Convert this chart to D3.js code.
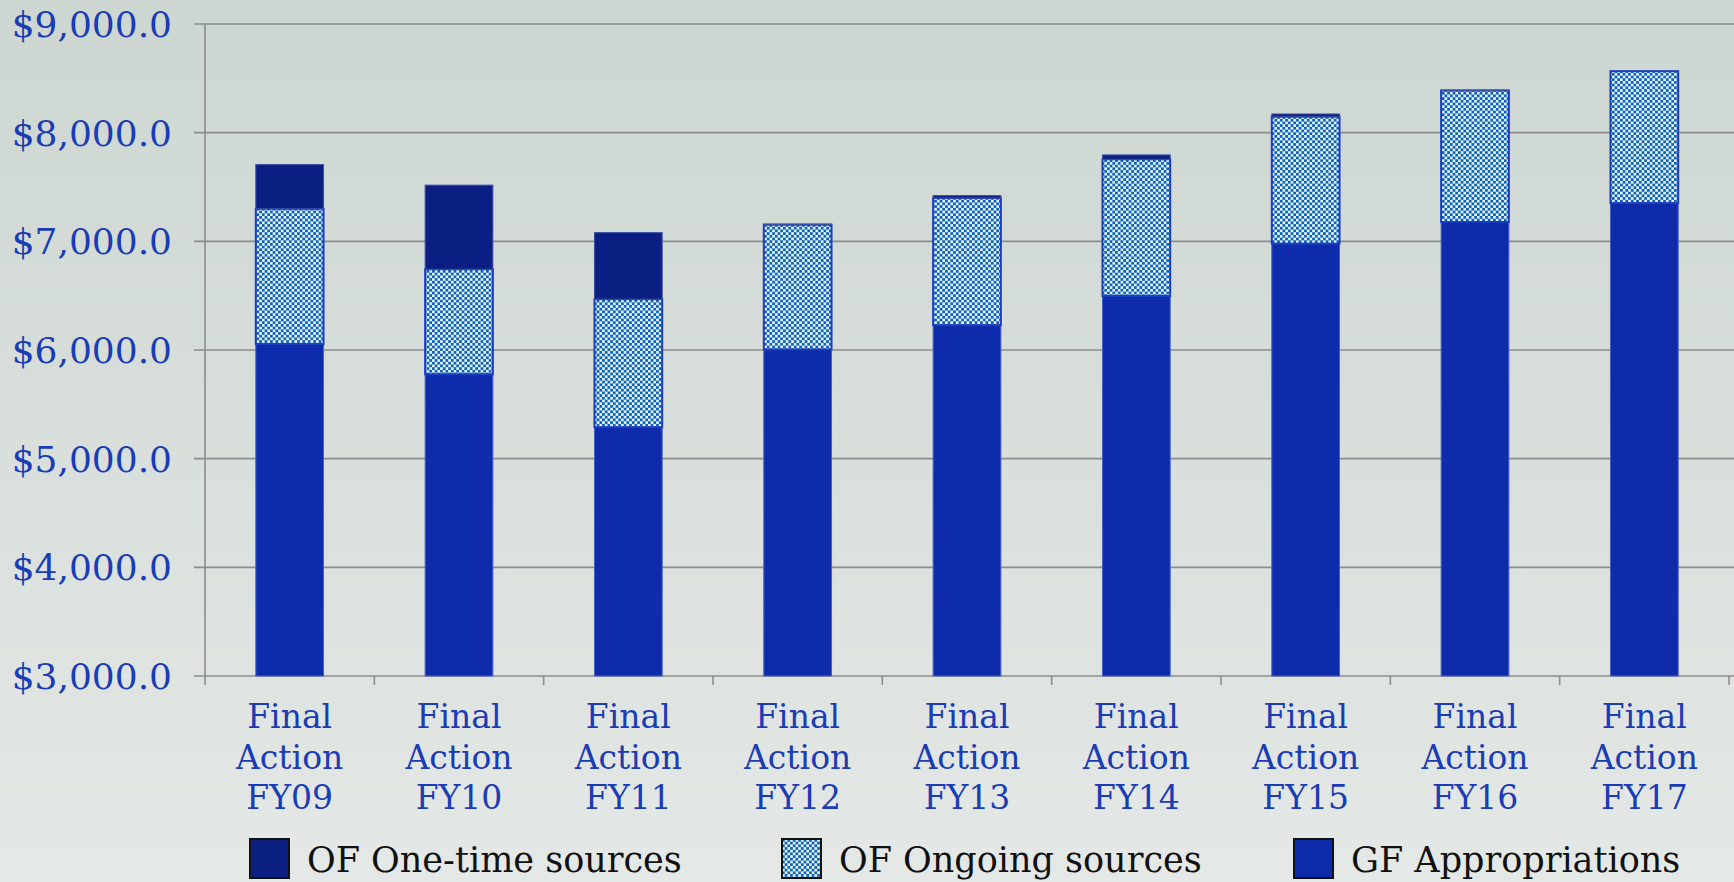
<!DOCTYPE html>
<html>
<head>
<meta charset="utf-8">
<script src="https://cdn.jsdelivr.net/npm/d3@7"></script>
<style>
  html, body { margin: 0; padding: 0; }
  body { width: 1734px; height: 882px; overflow: hidden; }
  svg { display: block; }
</style>
</head>
<body>
<script>
// chart data (millions)
var categories = ["FY09", "FY10", "FY11", "FY12", "FY13", "FY14", "FY15", "FY16", "FY17"];
var gfAppropriations = [6055, 5777, 5290, 6005, 6229, 6497, 6979, 7178, 7352];
var ofOngoing = [1245, 966, 1178, 1148, 1170, 1258, 1168, 1210, 1214];
var ofOneTime = [406, 774, 612, 6, 22, 40, 25, 4, 0];
var yTicks = [3000, 4000, 5000, 6000, 7000, 8000, 9000];
var legendLabels = ["OF One-time sources", "OF Ongoing sources", "GF Appropriations"];

// plot box (note: "top" is a reserved window prop, so use other names)
var width = 1734, height = 882;
var plotLeft = 205, plotRight = 1729, plotTop = 24, plotBottom = 676;
var blue = "#1a3cb4";
var font = "'DejaVu Serif', serif";

var svg = d3.select("body").append("svg")
    .attr("width", width)
    .attr("height", height);

// background gradient
var defs = svg.append("defs");
var grad = defs.append("linearGradient")
    .attr("id", "bg")
    .attr("x1", 0).attr("y1", 0).attr("x2", 0).attr("y2", 1);
grad.append("stop").attr("offset", "0%").attr("stop-color", "#cdd6d1");
grad.append("stop").attr("offset", "100%").attr("stop-color", "#e4e8e6");

// checkered fill for the ongoing sources
var pat = defs.append("pattern")
    .attr("id", "checks")
    .attr("patternUnits", "userSpaceOnUse")
    .attr("width", 5.4).attr("height", 5.4);
pat.append("rect").attr("width", 5.4).attr("height", 5.4).attr("fill", "#eef5fb");
pat.append("rect").attr("x", 0).attr("y", 0).attr("width", 2.8).attr("height", 2.8).attr("fill", "#0863b6");
pat.append("rect").attr("x", 2.7).attr("y", 2.7).attr("width", 2.8).attr("height", 2.8).attr("fill", "#0863b6");

svg.append("rect")
    .attr("width", width).attr("height", height)
    .attr("fill", "url(#bg)");

var x = d3.scaleBand()
    .domain(categories)
    .range([plotLeft, plotRight])
    .paddingInner(0.6)
    .paddingOuter(0.3);

var y = d3.scaleLinear()
    .domain([3000, 9000])
    .range([plotBottom, plotTop]);

// gridlines + y labels
svg.append("g")
    .selectAll("line")
    .data(yTicks)
    .enter()
    .append("line")
    .attr("x1", plotLeft - 11)
    .attr("x2", width)
    .attr("y1", function (d) { return y(d); })
    .attr("y2", function (d) { return y(d); })
    .attr("stroke", "#8c8c8c")
    .attr("stroke-width", 1.6);

svg.append("g")
    .selectAll("text")
    .data(yTicks)
    .enter()
    .append("text")
    .attr("x", 172)
    .attr("y", function (d) { return y(d) + 13; })
    .attr("text-anchor", "end")
    .attr("font-family", font)
    .attr("font-size", 36)
    .attr("fill", blue)
    .text(function (d) { return "$" + d3.format(",.1f")(d); });

// left axis line
svg.append("line")
    .attr("x1", plotLeft).attr("x2", plotLeft)
    .attr("y1", plotTop).attr("y2", plotBottom + 9)
    .attr("stroke", "#8c8c8c")
    .attr("stroke-width", 1.6);

// category boundary ticks
var step = x.step();
svg.append("g")
    .selectAll("line")
    .data(categories)
    .enter()
    .append("line")
    .attr("x1", function (d) { return x(d) + x.bandwidth() / 2 + step / 2; })
    .attr("x2", function (d) { return x(d) + x.bandwidth() / 2 + step / 2; })
    .attr("y1", plotBottom)
    .attr("y2", plotBottom + 9)
    .attr("stroke", "#8c8c8c")
    .attr("stroke-width", 1.6);

// stacked bars
var rows = categories.map(function (c, i) {
    return { cat: c, gf: gfAppropriations[i], ongoing: ofOngoing[i], onetime: ofOneTime[i] };
});
var stack = d3.stack().keys(["gf", "ongoing", "onetime"]);
var series = stack(rows);

var fills = { gf: "#0d2bab", ongoing: "url(#checks)", onetime: "#0b1f82" };
var strokes = { gf: "#4660c8", ongoing: "#1c3dc0", onetime: "#3a4fa8" };
var widths = { gf: 1, ongoing: 2, onetime: 1 };

svg.append("g")
    .selectAll("g")
    .data(series)
    .enter()
    .append("g")
    .each(function (s) {
        d3.select(this).selectAll("rect")
            .data(s)
            .enter()
            .append("rect")
            .attr("x", function (d) { return x(d.data.cat); })
            .attr("width", x.bandwidth())
            .attr("y", function (d) { return y(Math.max(d[1], 3000)); })
            .attr("height", function (d) { return y(Math.max(d[0], 3000)) - y(Math.max(d[1], 3000)); })
            .attr("fill", fills[s.key])
            .attr("stroke", function (d) { return d[1] - d[0] > 0 ? strokes[s.key] : "none"; })
            .attr("stroke-width", widths[s.key]);
    });

// category labels, three lines each
var labels = svg.append("g")
    .selectAll("text")
    .data(categories)
    .enter()
    .append("text")
    .attr("text-anchor", "middle")
    .attr("font-family", font)
    .attr("font-size", 33)
    .attr("fill", blue);

labels.each(function (d) {
    var t = d3.select(this);
    var cx = x(d) + x.bandwidth() / 2;
    ["Final", "Action", d].forEach(function (line, k) {
        t.append("tspan").attr("x", cx).attr("y", 728 + k * 40.5).text(line);
    });
});

// legend
var legendX = [250, 782, 1294];
var legendFill = ["#0b1f82", "url(#checks)", "#0d2bab"];
var legend = svg.append("g")
    .selectAll("g")
    .data(legendLabels)
    .enter()
    .append("g")
    .attr("transform", function (d, i) { return "translate(" + legendX[i] + ",839)"; });

legend.append("rect")
    .attr("width", 39).attr("height", 39)
    .attr("fill", function (d, i) { return legendFill[i]; })
    .attr("stroke", "#111")
    .attr("stroke-width", 2);

legend.append("text")
    .attr("x", 57)
    .attr("y", 33)
    .attr("font-family", font)
    .attr("font-size", 35)
    .attr("fill", "#111")
    .text(function (d) { return d; });
</script>
</body>
</html>
